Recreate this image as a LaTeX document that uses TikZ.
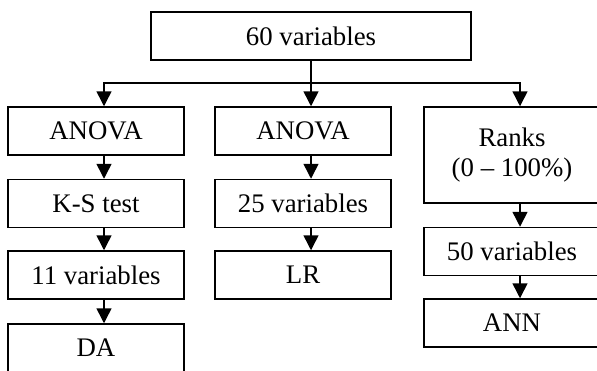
\documentclass[tikz,border=0pt]{standalone}
\usepackage{fontspec}
\setmainfont{Liberation Serif}
\usetikzlibrary{arrows.meta}

\tikzset{
  stagebox/.style={draw=black, line width=0.75pt, rectangle, minimum width=88pt, minimum height=24pt,
    inner sep=0pt, align=center, font=\fontsize{13.4}{15.2}\selectfont},
  flow/.style={line width=0.75pt, -{Triangle[width=7.5pt,length=7.5pt]}}
}

\begin{document}
\begin{tikzpicture}[x=0.5pt, y=-0.5pt]
                \useasboundingbox (0,0) rectangle (597,370);
                \clip (0,0) rectangle (597,370);

                \node[stagebox, minimum width=160pt] (all) at (311, 36) {60 variables};

                \node[stagebox] (anovaA) at (96, 131) {ANOVA};
                \node[stagebox] (kstest) at (96, 203.5) {K-S test};
                \node[stagebox] (elevenvar) at (96, 275) {11 variables};
                \node[stagebox] (da) at (96, 348) {DA};

                \node[stagebox] (anovaB) at (303, 131) {ANOVA};
                \node[stagebox] (twentyfivevar) at (303, 203.5) {25 variables};
                \node[stagebox] (lr) at (303, 275) {LR};

                \node[stagebox, minimum height=48pt] (ranks) at (512, 155) {Ranks\\(0 -- 100\%)};
                \node[stagebox] (fiftyvar) at (512, 251.5) {50 variables};
                \node[stagebox] (ann) at (512, 323) {ANN};

                \coordinate (split) at (311, 83);
                \draw[line width=0.75pt] (all.south) -- (split);
                \draw[flow] (split) -| ([xshift=4pt]anovaA.north);
                \draw[flow] (split) -- ([xshift=4pt]anovaB.north);
                \draw[flow] (split) -| ([xshift=4pt]ranks.north);

                \draw[flow] ([xshift=4pt]anovaA.south) -- ([xshift=4pt]kstest.north);
                \draw[flow] ([xshift=4pt]kstest.south) -- ([xshift=4pt]elevenvar.north);
                \draw[flow] ([xshift=4pt]elevenvar.south) -- ([xshift=4pt]da.north);

                \draw[flow] ([xshift=4pt]anovaB.south) -- ([xshift=4pt]twentyfivevar.north);
                \draw[flow] ([xshift=4pt]twentyfivevar.south) -- ([xshift=4pt]lr.north);

                \draw[flow] ([xshift=4pt]ranks.south) -- ([xshift=4pt]fiftyvar.north);
                \draw[flow] ([xshift=4pt]fiftyvar.south) -- ([xshift=4pt]ann.north);
            \end{tikzpicture}
\end{document}
